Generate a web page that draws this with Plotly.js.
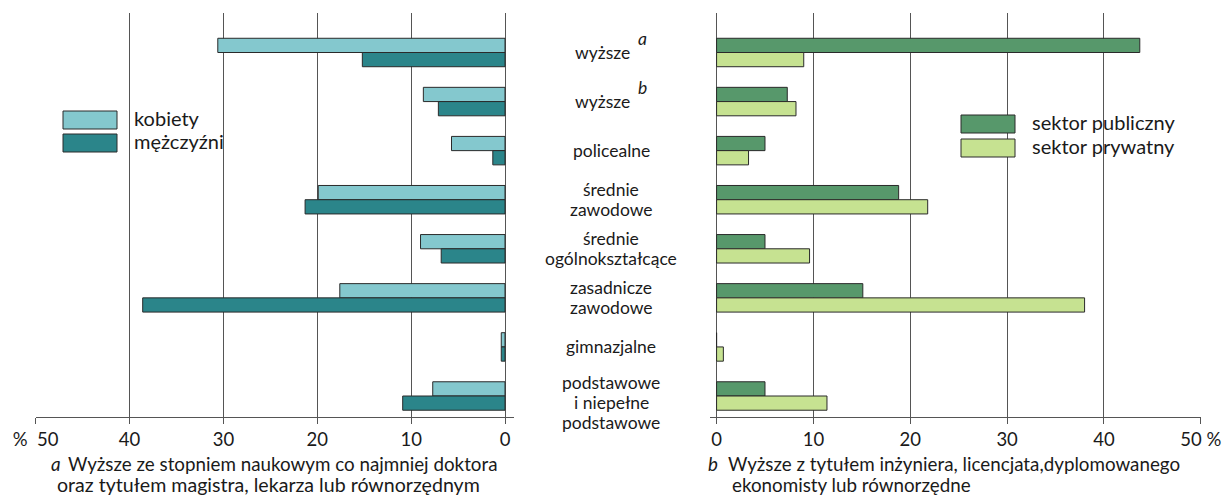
<!DOCTYPE html>
<html>
<head>
<meta charset="utf-8">
<script src="https://cdn.plot.ly/plotly-3.0.1.min.js"></script>
<style>
  html, body { margin: 0; padding: 0; background: #fff; }
  #chart { width: 1223px; height: 495px; }
</style>
</head>
<body>
<div id="chart"></div>
<script>
const categories = [
  'wyższe', 'wyższe', 'policealne', 'średnie\nzawodowe', 'średnie\nogólnokształcące',
  'zasadnicze\nzawodowe', 'gimnazjalne', 'podstawowe\ni niepełne\npodstawowe'
];
const categoryMarks = ['a', 'b', '', '', '', '', '', ''];

const women = [30.6, 8.7, 5.7, 19.9, 9.0, 17.6, 0.4, 7.7];
const men = [15.2, 7.1, 1.3, 21.3, 6.8, 38.6, 0.4, 10.9];
const publicSector = [43.7, 7.3, 5.0, 18.8, 5.0, 15.1, 0, 5.0];
const privateSector = [9.0, 8.2, 3.3, 21.8, 9.6, 38.0, 0.7, 11.4];

const tickValues = [0, 10, 20, 30, 40, 50];
const leftTickText = ['0', '10', '20', '30', '40', '%\u00a0\u00a050'];
const rightTickText = ['0', '10', '20', '30', '40', '50 %'];

const noteA = ['Wyższe ze stopniem naukowym co najmniej doktora', 'oraz tytułem magistra, lekarza lub równorzędnym'];
const noteB = ['Wyższe z tytułem inżyniera, licencjata,dyplomowanego', 'ekonomisty lub równorzędne'];

const W = 1223, H = 495;
const px = (x) => x / W;
const py = (y) => 1 - y / H;
const font = 'Lato, "Open Sans", sans-serif';
const textColor = '#1a1a1a';
const rows = categories.map((_, i) => i);

const outline = { color: '#2a2a2a', width: 1 };
const bar = (name, values, color, xa, ya) => ({
  type: 'bar', orientation: 'h', name, x: values, y: rows,
  xaxis: xa, yaxis: ya,
  marker: { color, line: outline },
  hovertemplate: name + ': %{x}%<extra></extra>',
});

const traces = [
  bar('kobiety', women, '#84c8ce', 'x', 'y'),
  bar('mężczyźni', men, '#2b858a', 'x', 'y'),
  bar('sektor publiczny', publicSector, '#57986b', 'x2', 'y2'),
  bar('sektor prywatny', privateSector, '#c6e291', 'x2', 'y2'),
];

const xBase = {
  tickmode: 'array', tickvals: tickValues,
  showgrid: true, gridcolor: '#555', gridwidth: 1,
  zeroline: false,
  showline: true, linecolor: '#555', linewidth: 1,
  ticks: 'outside', ticklen: 6, tickcolor: '#555',
  tickfont: { family: font, size: 18.5, color: textColor },
  anchor: 'free', position: py(417),
};
const yBase = {
  range: [7.428, -0.805],
  domain: [py(417), py(13)],
  showticklabels: false, showgrid: false, zeroline: false, showline: false, ticks: '',
};

const annotations = [];
categories.forEach((label, i) => {
  const lines = label.split('\n');
  const n = lines.length;
  const extra = n === 3 ? -6 : 0;
  const hasMark = categoryMarks[i] !== '';
  lines.forEach((line, k) => {
    annotations.push({
      xref: 'paper', yref: 'y', x: hasMark ? px(632) : px(611), y: i,
      xanchor: hasMark ? 'right' : 'center', yanchor: 'middle',
      yshift: ((n - 1) / 2 - k) * 20 + extra,
      text: line, showarrow: false,
      font: { family: font, size: 17.5, color: textColor },
    });
  });
  if (hasMark) {
    annotations.push({
      xref: 'paper', yref: 'y', x: px(636), y: i, xanchor: 'left', yanchor: 'middle',
      yshift: 14, text: '<i>' + categoryMarks[i] + '</i>', showarrow: false,
      font: { family: font, size: 17.5, color: textColor },
    });
  }
});

const noteLine = (x, y, text, size) => ({
  xref: 'paper', yref: 'paper', x: px(x), y: py(y), xanchor: 'left', yanchor: 'middle',
  text, showarrow: false, borderpad: 0,
  font: { family: font, size: size || 18.8, color: textColor },
});
annotations.push(noteLine(50, 463, '<i>a</i>'));
annotations.push(noteLine(67, 463, noteA[0]));
annotations.push(noteLine(56, 484, noteA[1], 19.6));
annotations.push(noteLine(707, 463, '<i>b</i>'));
annotations.push(noteLine(727, 463, noteB[0]));
annotations.push(noteLine(731, 484, noteB[1]));

// hand-drawn legends
const shapes = [];
const legendItem = (x0, y0, color, label) => {
  shapes.push({
    type: 'rect', xref: 'paper', yref: 'paper',
    x0: px(x0), x1: px(x0 + 54), y0: py(y0 + 18), y1: py(y0),
    fillcolor: color, line: outline,
  });
  annotations.push({
    xref: 'paper', yref: 'paper', x: px(x0 + 69), y: py(y0 + 7), xanchor: 'left', yanchor: 'middle',
    text: label, showarrow: false, font: { family: font, size: 20, color: textColor },
  });
};
legendItem(63, 111, '#84c8ce', 'kobiety');
legendItem(63, 134, '#2b858a', 'mężczyźni');
legendItem(961, 115, '#57986b', 'sektor publiczny');
legendItem(961, 139, '#c6e291', 'sektor prywatny');

const layout = {
  width: W, height: H,
  margin: { l: 0, r: 0, t: 0, b: 0 },
  paper_bgcolor: '#fff', plot_bgcolor: 'rgba(0,0,0,0)',
  barmode: 'group', bargap: 0.42, bargroupgap: 0,
  showlegend: false,
  xaxis: { ...xBase, range: [50.02, -1], domain: [px(35.5), px(514.4)], ticktext: leftTickText },
  xaxis2: { ...xBase, range: [-0.7, 50.02], domain: [px(709.8), px(1201)], ticktext: rightTickText },
  yaxis: { ...yBase, anchor: 'x' },
  yaxis2: { ...yBase, anchor: 'x2' },
  annotations, shapes,
};

Plotly.newPlot('chart', traces, layout, { displayModeBar: false, staticPlot: true });
</script>
</body>
</html>
